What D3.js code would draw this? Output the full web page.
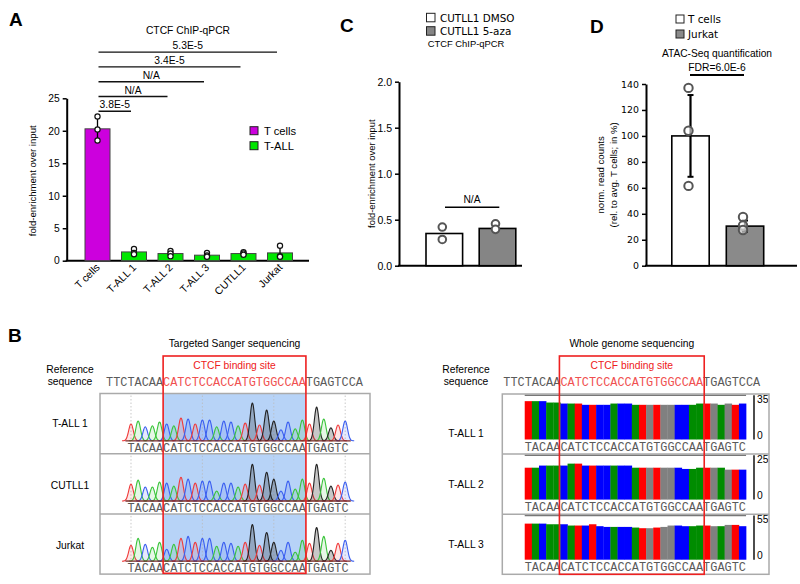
<!DOCTYPE html>
<html>
<head>
<meta charset="utf-8">
<script src="https://cdn.jsdelivr.net/npm/d3@7"></script>
<style>
body { margin: 0; background: #fff; }
svg { font-family: "Liberation Sans", Arial, sans-serif; }
</style>
</head>
<body>
<svg width="800" height="584"></svg>
<script>
// ---- panel A data
var aCats = ["T cells", "T-ALL 1", "T-ALL 2", "T-ALL 3", "CUTLL1", "Jurkat"];
var aMeans = [20.3, 1.35, 1.1, 0.85, 1.1, 1.2];
var aErr = [1.85, 0.4, 0.4, 0.35, 0.2, 0.95];
var aPoints = [[22.2, 20.2, 18.5], [1.8, 1.2, 1.0], [1.5, 1.1, 0.7], [1.2, 0.8, 0.6], [1.3, 1.1, 0.9], [2.3, 0.7, 0.6]];
var aTicks = [0, 5, 10, 15, 20, 25];
var aLegend = ["T cells", "T-ALL"];
var aSig = [["T-ALL 1", "3.8E-5"], ["T-ALL 2", "N/A"], ["T-ALL 3", "N/A"], ["CUTLL1", "3.4E-5"], ["Jurkat", "5.3E-5"]];

// ---- panel C data
var cCats = ["CUTLL1 DMSO", "CUTLL1 5-aza"];
var cMeans = [0.35, 0.405];
var cPoints = [[0.42, 0.285], [0.455, 0.395]];
var cTicks = [0, 0.5, 1.0, 1.5, 2.0];

// ---- panel D data
var dCats = ["T cells", "Jurkat"];
var dMeans = [100, 30.5];
var dErr = [31.5, 4.3];
var dPoints = [[137, 104, 61.5], [37.5, 31, 27.5]];
var dTicks = [0, 20, 40, 60, 80, 100, 120, 140];

// ---- panel B data
var refSeq = "TTCTACAACATCTCCACCATGTGGCCAATGAGTCCA";
var siteFrom = 8, siteTo = 28;
var readSeq = "TACAACATCTCCACCATGTGGCCAATGAGTC";
var readOffset = 3;
var sangerRows = ["T-ALL 1", "CUTLL1", "Jurkat"];
var sangerPeaks = [
  [17, 20, 14, 15, 19, 17, 15, 23, 22, 17, 21, 21, 14, 20, 19, 15, 18, 38, 16, 31, 20, 11, 19, 12, 21, 17, 34, 22, 13, 16, 20],
  [17, 21, 14, 14, 19, 18, 15, 24, 22, 18, 20, 20, 10, 18, 18, 14, 17, 37, 16, 29, 22, 10, 20, 12, 22, 18, 37, 23, 15, 16, 19],
  [16, 23, 17, 14, 19, 12, 17, 23, 25, 19, 23, 23, 15, 19, 18, 15, 19, 37, 16, 29, 19, 11, 19, 9, 21, 18, 34, 25, 11, 18, 21]
];
var wgsRows = ["T-ALL 1", "T-ALL 2", "T-ALL 3"];
var wgsMax = [35, 25, 55];
var wgsCounts = [
  [30.3, 30.3, 30.3, 29.2, 29.2, 28.4, 28.4, 28.4, 27.4, 27.4, 27.4, 27.4, 28.4, 28.4, 28.4, 27.4, 27.4, 27.4, 27.4, 27.4, 27.4, 27.4, 27.4, 27.4, 28.4, 28.4, 28.4, 27.4, 28.4, 27.4, 28.4],
  [18.0, 18.0, 19.2, 19.2, 19.2, 19.2, 20.3, 20.3, 19.2, 19.2, 19.2, 19.2, 19.2, 19.2, 19.2, 18.0, 18.0, 18.0, 18.0, 18.0, 18.0, 18.0, 17.3, 17.3, 18.0, 18.0, 18.0, 18.0, 16.9, 16.9, 16.9],
  [44.8, 44.8, 44.8, 44.0, 44.0, 44.0, 42.4, 42.4, 42.4, 44.0, 41.6, 40.7, 40.7, 40.7, 40.7, 39.9, 39.1, 39.1, 39.9, 40.7, 42.4, 42.4, 41.6, 41.6, 42.4, 42.4, 41.6, 41.6, 43.2, 43.2, 41.6]
];

var traceColor = {A: "#3ac43a", C: "#3a5ef0", G: "#222222", T: "#f03a3a"};
var barColor = {A: "#008c00", C: "#0000ff", G: "#808080", T: "#ff0000"};

var svg = d3.select("svg");

function addText(g, x, y, s, size, anchor, extra) {
  var t = g.append("text")
    .attr("x", x).attr("y", y)
    .attr("font-size", size)
    .attr("text-anchor", anchor || "start")
    .attr("fill", "#000")
    .text(s);
  if (extra) Object.keys(extra).forEach(function (k) { t.attr(k, extra[k]); });
  return t;
}

function styleAxis(ax, size, font) {
  ax.select(".domain").attr("stroke", "#000").attr("stroke-width", 2);
  ax.selectAll(".tick line").attr("stroke", "#000").attr("stroke-width", 1.5);
  ax.selectAll(".tick text").attr("font-size", size).attr("fill", "#000")
    .attr("font-family", font || "Liberation Sans, Arial, sans-serif");
}

// panel letters
[["A", 9, 26], ["C", 340, 32], ["D", 590, 33], ["B", 8, 342]].forEach(function (p) {
  addText(svg, p[1], p[2], p[0], 19, "start", {"font-weight": "bold"});
});

// ================= PANEL A =================
var gA = svg.append("g");
var yA = d3.scaleLinear().domain([0, 25]).range([260.7, 98.3]);
var xA = d3.scalePoint().domain(aCats).range([97.5, 280]);
var axA = 66.7;

addText(gA, 188, 34, "CTCF ChIP-qPCR", 10.3, "middle");

var yAx = gA.append("g").attr("transform", "translate(" + axA + ",0)")
  .call(d3.axisLeft(yA).tickValues(aTicks).tickSize(4).tickSizeOuter(0).tickPadding(3));
styleAxis(yAx, 10.3);

gA.append("line").attr("x1", axA - 1).attr("x2", 309).attr("y1", yA(0)).attr("y2", yA(0))
  .attr("stroke", "#000").attr("stroke-width", 2);

addText(gA, 0, 0, "fold-enrichment over input", 9.6, "middle",
  {transform: "translate(36," + yA(12.3) + ") rotate(-90)"});

aCats.forEach(function (c, i) {
  var x = xA(c);
  gA.append("rect")
    .attr("x", x - 12.5).attr("y", yA(aMeans[i]))
    .attr("width", 25).attr("height", yA(0) - yA(aMeans[i]))
    .attr("fill", i === 0 ? "#cc00dd" : "#00e600")
    .attr("stroke", "#444").attr("stroke-width", 1);
  gA.append("line").attr("x1", x).attr("x2", x)
    .attr("y1", yA(aMeans[i] + aErr[i])).attr("y2", yA(aMeans[i] - aErr[i]))
    .attr("stroke", "#000").attr("stroke-width", 1.3);
  aPoints[i].forEach(function (v) {
    gA.append("circle").attr("cx", x).attr("cy", yA(v)).attr("r", 2.6)
      .attr("fill", "#fff").attr("stroke", "#111").attr("stroke-width", 1.2);
  });
  addText(gA, 0, 0, c, 10.5, "end",
    {transform: "translate(" + (x + 3) + "," + 268 + ") rotate(-45)"});
});

// significance bars
aSig.forEach(function (s, k) {
  var y = 111.3 - k * 14.8;
  var x1 = xA(aCats[0]) + 1, x2 = xA(s[0]) - 3;
  gA.append("line").attr("x1", x1).attr("x2", x2).attr("y1", y).attr("y2", y)
    .attr("stroke", "#111").attr("stroke-width", 1.4);
  addText(gA, (x1 + x2) / 2, y - 3, s[1], 10.3, "middle");
});

// legend
aLegend.forEach(function (l, i) {
  var y = 126.7 + i * 15;
  gA.append("rect").attr("x", 250).attr("y", y).attr("width", 8).attr("height", 8)
    .attr("fill", i === 0 ? "#cc00dd" : "#00e600").attr("stroke", "#222").attr("stroke-width", 1);
  addText(gA, 264, y + 8, l, 11.2);
});

// ================= PANEL C =================
var gC = svg.append("g");
var yC = d3.scaleLinear().domain([0, 2]).range([265.7, 81.7]);
var xC = d3.scalePoint().domain(cCats).range([444.3, 497.5]);
var axC = 399;
var cFill = ["#ffffff", "#858585"];

cCats.forEach(function (c, i) {
  var y = 13.3 + i * 13.4;
  gC.append("rect").attr("x", 426.5).attr("y", y).attr("width", 8.5).attr("height", 8.5)
    .attr("fill", cFill[i]).attr("stroke", "#222").attr("stroke-width", 1);
  addText(gC, 440, y + 8.5, c, 10.4, "start", {"font-family": "DejaVu Sans, sans-serif"});
});
addText(gC, 466, 47, "CTCF ChIP-qPCR", 9.4, "middle");

var yCx = gC.append("g").attr("transform", "translate(" + axC + ",0)")
  .call(d3.axisLeft(yC).tickValues(cTicks).tickFormat(d3.format(".1f")).tickSize(4).tickSizeOuter(0).tickPadding(3));
styleAxis(yCx, 10.5);
gC.append("line").attr("x1", axC - 1).attr("x2", 522).attr("y1", yC(0)).attr("y2", yC(0))
  .attr("stroke", "#000").attr("stroke-width", 2);
addText(gC, 0, 0, "fold-enrichment over input", 9.4, "middle",
  {transform: "translate(375," + yC(1.0) + ") rotate(-90)"});

cCats.forEach(function (c, i) {
  var x = xC(c);
  gC.append("rect").attr("x", x - 18.3).attr("y", yC(cMeans[i]))
    .attr("width", 36.6).attr("height", yC(0) - yC(cMeans[i]))
    .attr("fill", cFill[i]).attr("stroke", "#000").attr("stroke-width", 1.6);
  cPoints[i].forEach(function (v) {
    gC.append("circle").attr("cx", x - 2).attr("cy", yC(v)).attr("r", 3.8)
      .attr("fill", "#fff").attr("stroke", "#555").attr("stroke-width", 2);
  });
});
gC.append("line").attr("x1", 445).attr("x2", 499.3).attr("y1", 207.3).attr("y2", 207.3)
  .attr("stroke", "#000").attr("stroke-width", 1.4);
addText(gC, 472, 203, "N/A", 10.3, "middle");

// ================= PANEL D =================
var gD = svg.append("g");
var yD = d3.scaleLinear().domain([0, 140]).range([265.7, 84]);
var xD = d3.scalePoint().domain(dCats).range([690.5, 745]);
var axD = 646;
var dFill = ["#ffffff", "#8a8a8a"];

dCats.forEach(function (c, i) {
  var y = 15 + i * 15;
  gD.append("rect").attr("x", 676).attr("y", y).attr("width", 8).attr("height", 8)
    .attr("fill", dFill[i]).attr("stroke", "#222").attr("stroke-width", 1);
  addText(gD, 688, y + 8, c, 10.4, "start", {"font-family": "DejaVu Sans, sans-serif"});
});
addText(gD, 717, 57, "ATAC-Seq quantification", 10.2, "middle");
addText(gD, 717, 71, "FDR=6.0E-6", 10.3, "middle");
gD.append("line").attr("x1", 690).attr("x2", 744).attr("y1", 75).attr("y2", 75)
  .attr("stroke", "#000").attr("stroke-width", 2);

var yDx = gD.append("g").attr("transform", "translate(" + axD + ",0)")
  .call(d3.axisLeft(yD).tickValues(dTicks).tickSize(4).tickSizeOuter(0).tickPadding(3));
styleAxis(yDx, 9.4, "DejaVu Sans, sans-serif");
gD.append("line").attr("x1", axD - 1).attr("x2", 797).attr("y1", yD(0)).attr("y2", yD(0))
  .attr("stroke", "#000").attr("stroke-width", 2);
addText(gD, 0, 0, "norm. read counts", 9.6, "middle",
  {transform: "translate(604," + yD(70) + ") rotate(-90)"});
addText(gD, 0, 0, "(rel. to avg. T cells; in %)", 9.6, "middle",
  {transform: "translate(617," + yD(70) + ") rotate(-90)"});

dCats.forEach(function (c, i) {
  var x = xD(c);
  gD.append("rect").attr("x", x - 18.7).attr("y", yD(dMeans[i]))
    .attr("width", 37.4).attr("height", yD(0) - yD(dMeans[i]))
    .attr("fill", dFill[i]).attr("stroke", "#000").attr("stroke-width", 1.6);
  var e1 = yD(dMeans[i] + dErr[i]), e2 = yD(dMeans[i] - dErr[i]);
  gD.append("line").attr("x1", x).attr("x2", x).attr("y1", e1).attr("y2", e2)
    .attr("stroke", "#000").attr("stroke-width", 2.2);
  [e1, e2].forEach(function (yy) {
    gD.append("line").attr("x1", x - 3).attr("x2", x + 3).attr("y1", yy).attr("y2", yy)
      .attr("stroke", "#000").attr("stroke-width", 2);
  });
  dPoints[i].forEach(function (v) {
    gD.append("circle").attr("cx", x - 2).attr("cy", yD(v)).attr("r", 4.2)
      .attr("fill", "#fff").attr("fill-opacity", 0.6).attr("stroke", "#555").attr("stroke-width", 2);
  });
});

// ================= PANEL B =================
function seqBlock(g, left, title) {
  var xs = d3.scaleLinear().domain([0, refSeq.length]).range([left, left + refSeq.length * 7.14]);
  var mid = (xs(siteFrom) + xs(siteTo)) / 2;
  addText(g, mid, 347, title, 10.3, "middle");
  addText(g, mid, 369, "CTCF binding site", 10.3, "middle", {fill: "#ee2020"});
  var t = g.append("text").attr("x", xs(0)).attr("y", 385.5)
    .attr("font-family", "Liberation Mono, monospace").attr("font-size", 11.9).attr("fill", "#5a5a5a");
  t.append("tspan").text(refSeq.slice(0, siteFrom));
  t.append("tspan").attr("fill", "#f05050").text(refSeq.slice(siteFrom, siteTo));
  t.append("tspan").text(refSeq.slice(siteTo));
  return xs;
}

function readText(g, xs, y) {
  g.append("text").attr("x", xs(readOffset)).attr("y", y)
    .attr("font-family", "Liberation Mono, monospace").attr("font-size", 11.9).attr("fill", "#5a5a5a")
    .text(readSeq);
}

// left: Sanger
var gL = svg.append("g");
var xL = seqBlock(gL, 106, "Targeted Sanger sequencing");
var boxL = {x1: 100, x2: 370, top: 393.5, rowH: 60.2};
sangerRows.forEach(function (name, r) {
  var top = boxL.top + r * boxL.rowH;
  var base = top + 47.3;
  addText(gL, 70, top + (r === 0 ? 33 : 35), name, 10.3, "middle");
  gL.append("rect").attr("x", xL(siteFrom)).attr("y", top).attr("width", xL(siteTo) - xL(siteFrom))
    .attr("height", base - top).attr("fill", "#b7d3f7");
  [0, 10, 20, 30].forEach(function (k) {
    var x = xL(readOffset + k + 0.5);
    gL.append("line").attr("x1", x).attr("x2", x).attr("y1", top + 2).attr("y2", base)
      .attr("stroke", "#bbb").attr("stroke-width", 0.8).attr("stroke-dasharray", "1.5,2");
  });
  var yT = d3.scaleLinear().domain([0, 40]).range([base, base - 40]);
  var sigma = 2.3;
  readSeq.split("").forEach(function (b, i) {
    var cx = xL(readOffset + i + 0.5);
    var h = sangerPeaks[r][i];
    var pts = d3.range(-9, 9.01, 0.5).map(function (dx) {
      return [cx + dx, h * Math.exp(-dx * dx / (2 * sigma * sigma))];
    });
    var area = d3.area().x(function (d) { return d[0]; }).y0(yT(0)).y1(function (d) { return yT(d[1]); })
      .curve(d3.curveBasis);
    var line = d3.line().x(function (d) { return d[0]; }).y(function (d) { return yT(d[1]); })
      .curve(d3.curveBasis);
    gL.append("path").attr("d", area(pts)).attr("fill", traceColor[b]).attr("fill-opacity", b === "G" ? 0.25 : 0.13);
    gL.append("path").attr("d", line(pts)).attr("fill", "none").attr("stroke", traceColor[b]).attr("stroke-width", 1.1);
  });
  gL.append("line").attr("x1", xL(readOffset) - 2).attr("x2", xL(readOffset + readSeq.length) + 2)
    .attr("y1", base).attr("y2", base).attr("stroke", "#7a2a2a").attr("stroke-width", 1.3);
  readText(gL, xL, base + 11);
  if (r > 0) gL.append("line").attr("x1", boxL.x1).attr("x2", boxL.x2).attr("y1", top).attr("y2", top)
    .attr("stroke", "#aaa").attr("stroke-width", 1.5);
});
gL.append("rect").attr("x", boxL.x1).attr("y", boxL.top).attr("width", boxL.x2 - boxL.x1)
  .attr("height", boxL.rowH * 3).attr("fill", "none").attr("stroke", "#aaa").attr("stroke-width", 1.5);
gL.append("rect").attr("x", xL(siteFrom)).attr("y", 356).attr("width", xL(siteTo) - xL(siteFrom))
  .attr("height", 573.3 - 356).attr("fill", "none").attr("stroke", "#ee2020").attr("stroke-width", 1.6);
addText(gL, 70, 373, "Reference", 10.3, "middle");
addText(gL, 70, 385, "sequence", 10.3, "middle");

// right: WGS
var gR = svg.append("g");
var xR = seqBlock(gR, 503.3, "Whole genome sequencing");
var boxR = {x1: 502.3, x2: 769, top: 394, rowH: 60.1};
wgsRows.forEach(function (name, r) {
  var top = boxR.top + r * boxR.rowH;
  var base = top + 45.5;
  addText(gR, 466, top + (r === 0 ? 43 : 34), name, 10.3, "middle");
  var yW = d3.scaleLinear().domain([0, wgsMax[r]]).range([base, top + 1.2]);
  readSeq.split("").forEach(function (b, i) {
    var v = wgsCounts[r][i];
    gR.append("rect").attr("x", xR(readOffset + i)).attr("y", yW(v))
      .attr("width", xR(readOffset + i + 1) - xR(readOffset + i) + 0.3).attr("height", base - yW(v))
      .attr("fill", barColor[b]);
  });
  gR.append("line").attr("x1", xR(readOffset)).attr("x2", xR(readOffset + readSeq.length))
    .attr("y1", yW(wgsMax[r])).attr("y2", yW(wgsMax[r])).attr("stroke", "#777").attr("stroke-width", 1.6);
  gR.append("line").attr("x1", 754).attr("x2", 754).attr("y1", yW(wgsMax[r])).attr("y2", base)
    .attr("stroke", "#000").attr("stroke-width", 1.4);
  addText(gR, 757, yW(wgsMax[r]) + 8, String(wgsMax[r]), 10.3);
  addText(gR, 757, base - 0.5, "0", 10.3);
  readText(gR, xR, base + 11.5);
  if (r > 0) gR.append("line").attr("x1", boxR.x1).attr("x2", boxR.x2).attr("y1", top).attr("y2", top)
    .attr("stroke", "#aaa").attr("stroke-width", 1.5);
});
gR.append("rect").attr("x", boxR.x1).attr("y", boxR.top).attr("width", boxR.x2 - boxR.x1)
  .attr("height", boxR.rowH * 3).attr("fill", "none").attr("stroke", "#aaa").attr("stroke-width", 1.5);
gR.append("rect").attr("x", xR(siteFrom) - 1).attr("y", 356).attr("width", xR(siteTo) - xR(siteFrom) + 2)
  .attr("height", 574.3 - 356).attr("fill", "none").attr("stroke", "#ee2020").attr("stroke-width", 1.6);
addText(gR, 466, 373, "Reference", 10.3, "middle");
addText(gR, 466, 385, "sequence", 10.3, "middle");
</script>
</body>
</html>
